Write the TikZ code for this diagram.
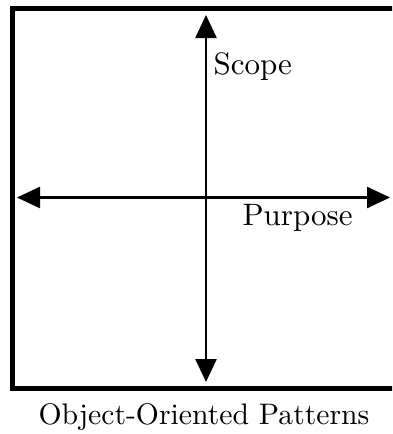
\documentclass[tikz,border=0pt]{standalone}
\usepackage{tikz}
\usetikzlibrary{arrows.meta}

\begin{document}
\begin{tikzpicture}[x=1pt,y=-1pt,>={Triangle[length=23pt,width=21pt]}]
  \tikzset{
    frame/.style={draw=black, line width=5pt},
    axis/.style={draw=black, line width=2.5pt, <->},
    lbl/.style={font=\normalsize, scale=3.1, inner sep=0pt, anchor=base west},
    caption/.style={font=\normalsize, scale=2.97, inner sep=0pt, anchor=base}
  }
  \useasboundingbox (0,0) rectangle (392,434);
  \clip (0,0) rectangle (392,434);

  % open frame, right side runs off the page
  \draw[frame] (12.5,8.5) rectangle (402,388);

  % axis ends
  \coordinate (top) at (206,15);
  \coordinate (bottom) at (206,382);
  \coordinate (left) at (17,197.5);
  \coordinate (right) at (390,197.5);

  \draw[axis] (bottom) -- (top);
  \draw[axis] (left) -- (right);

  \node[lbl] (scope) at (213,74) {Scope};
  \node[lbl] (purpose) at (242,225) {Purpose};

  \node[caption] (title) at (204,424) {Object-Oriented Patterns};
\end{tikzpicture}
\end{document}
